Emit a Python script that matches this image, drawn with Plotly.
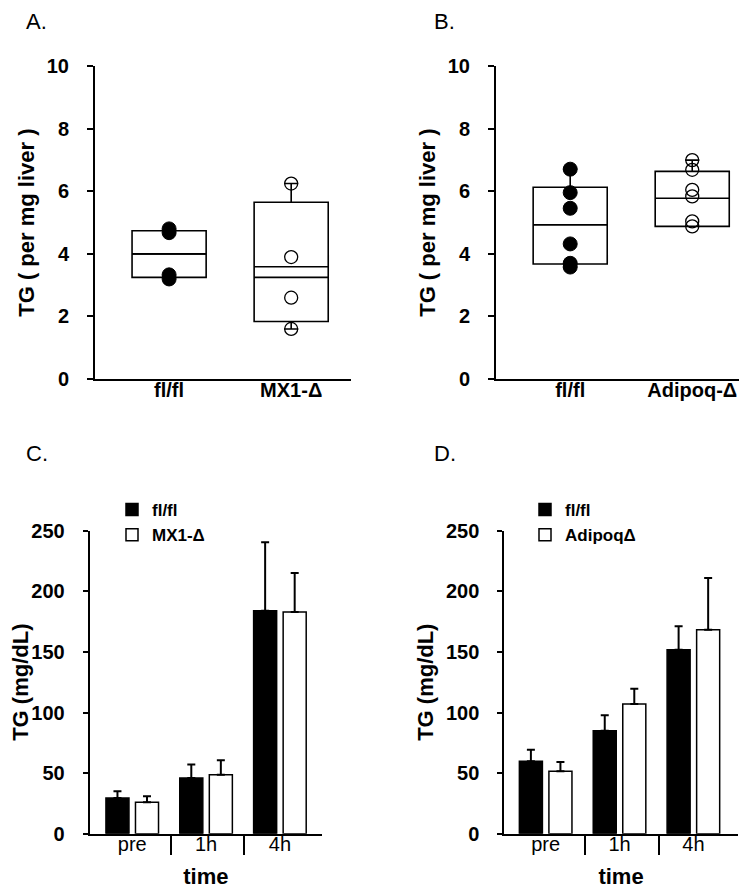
import plotly.graph_objects as go

FONT = "Liberation Sans, Arial, sans-serif"

# ---------------- Panel A: liver TG, MX1 ----------------
a_groups = ["fl/fl", "MX1-Δ"]
a_q1 = [3.25, 1.84]
a_median = [4.0, 3.25]
a_q3 = [4.74, 5.65]
a_lower = [3.25, 1.6]
a_upper = [4.74, 6.25]
a_mean = [4.0, 3.59]
a_pts_fl = [4.8, 4.68, 3.33, 3.2]
a_pts_ko = [6.25, 3.9, 2.6, 1.6]

# ---------------- Panel B: liver TG, Adipoq ----------------
b_groups = ["fl/fl", "Adipoq-Δ"]
b_q1 = [3.68, 4.88]
b_median = [4.93, 5.78]
b_q3 = [6.13, 6.64]
b_lower = [3.58, 4.88]
b_upper = [6.71, 7.0]
b_pts_fl = [6.71, 5.96, 5.46, 4.32, 3.7, 3.58]
b_pts_ko = [7.0, 6.69, 6.05, 5.84, 5.04, 4.88]

# ---------------- Panel C: plasma TG, MX1 ----------------
c_times = ["pre", "1h", "4h"]
c_fl = [29.5, 46, 184]
c_fl_err = [5.5, 11, 56.4]
c_ko = [25.9, 48.7, 183]
c_ko_err = [4.9, 11.8, 32]

# ---------------- Panel D: plasma TG, Adipoq ----------------
d_times = ["pre", "1h", "4h"]
d_fl = [59.7, 85, 151.8]
d_fl_err = [9.6, 12.7, 19.3]
d_ko = [51.5, 107, 168.3]
d_ko_err = [7.7, 12.6, 42.7]

BOXW = 0.607

fig = go.Figure()


def add_box_panel(xa, ya, q1, med, q3, lo, up, means, pts_fl, pts_ko, groups, mean_idx):
    pos = list(range(len(groups)))
    fig.add_trace(go.Box(
        x=pos, q1=q1, median=med, q3=q3, lowerfence=lo, upperfence=up,
        width=BOXW, whiskerwidth=0.19, fillcolor="white",
        line=dict(color="black", width=1.6), boxpoints=False,
        showlegend=False, xaxis=xa, yaxis=ya, hoverinfo="skip"))
    for i in mean_idx:
        fig.add_trace(go.Scatter(
            x=[pos[i] - BOXW / 2, pos[i] + BOXW / 2], y=[means[i], means[i]],
            mode="lines", line=dict(color="black", width=1.6),
            showlegend=False, xaxis=xa, yaxis=ya, hoverinfo="skip"))
    fig.add_trace(go.Scatter(
        x=[pos[0]] * len(pts_fl), y=pts_fl, mode="markers",
        marker=dict(symbol="circle", size=14, color="black",
                    line=dict(color="black", width=1)),
        showlegend=False, xaxis=xa, yaxis=ya))
    fig.add_trace(go.Scatter(
        x=[pos[1]] * len(pts_ko), y=pts_ko, mode="markers",
        marker=dict(symbol="circle", size=13, color="rgba(0,0,0,0)",
                    line=dict(color="black", width=1.3)),
        showlegend=False, xaxis=xa, yaxis=ya))


add_box_panel("x", "y", a_q1, a_median, a_q3, a_lower, a_upper, a_mean,
              a_pts_fl, a_pts_ko, a_groups, [0, 1])
add_box_panel("x2", "y2", b_q1, b_median, b_q3, b_lower, b_upper, b_median,
              b_pts_fl, b_pts_ko, b_groups, [])


def add_bar_panel(xa, ya, times, fl, fl_err, ko, ko_err, ko_name, leg):
    pos = list(range(len(times)))
    fig.add_trace(go.Bar(
        x=pos, y=fl, name="fl/fl", legend=leg,
        marker=dict(color="black", line=dict(color="black", width=1.5)),
        error_y=dict(type="data", symmetric=False, array=fl_err,
                     arrayminus=[0] * len(fl), color="black",
                     thickness=2, width=4),
        xaxis=xa, yaxis=ya))
    fig.add_trace(go.Bar(
        x=pos, y=ko, name=ko_name, legend=leg,
        marker=dict(color="white", line=dict(color="black", width=1.5)),
        error_y=dict(type="data", symmetric=False, array=ko_err,
                     arrayminus=[0] * len(ko), color="black",
                     thickness=2, width=4),
        xaxis=xa, yaxis=ya))


add_bar_panel("x3", "y3", c_times, c_fl, c_fl_err, c_ko, c_ko_err, "MX1-Δ", "legend")
add_bar_panel("x4", "y4", d_times, d_fl, d_fl_err, d_ko, d_ko_err, "AdipoqΔ", "legend2")

W, H = 747, 888


def px(v):
    return v / W


def py(v):
    return 1 - v / H


tickfont = dict(family=FONT, size=20, color="black", weight="bold")
titlefont = dict(family=FONT, size=22, color="black", weight="bold")
cattickfont = dict(family=FONT, size=20, color="black")

common_x = dict(showline=True, linecolor="black", linewidth=2, showgrid=False,
                zeroline=False, ticks="", ticklen=0, tickfont=tickfont,
                automargin=False, fixedrange=True)
common_y = dict(showline=True, linecolor="black", linewidth=2, showgrid=False,
                zeroline=False, ticks="outside", ticklen=6, tickwidth=2,
                tickcolor="black", tickfont=tickfont, automargin=False,
                fixedrange=True, ticklabelstandoff=14)

box_ydom = [py(371), py(58.3)]
bar_ydom = [py(825.7), py(522.7)]

legfont = dict(family=FONT, size=17, color="black", weight="bold")

fig.update_layout(
    width=W, height=H,
    margin=dict(l=0, r=0, t=0, b=0),
    paper_bgcolor="white", plot_bgcolor="white",
    barmode="group", bargap=0.2, bargroupgap=0.22,
    font=dict(family=FONT, color="black"),
    xaxis=dict(common_x, domain=[px(87), px(343)], range=[-0.607, 1.49],
               tickvals=[0, 1], ticktext=a_groups, anchor="y",
               ticklabelstandoff=-8),
    yaxis=dict(common_y, domain=box_ydom, range=[0, 10], dtick=2, anchor="x",
               title=dict(text="TG ( per mg liver )", font=titlefont, standoff=6)),
    xaxis2=dict(common_x, domain=[px(488), px(745)], range=[-0.608, 1.498],
                tickvals=[0, 1], ticktext=b_groups, anchor="y2",
                ticklabelstandoff=-8),
    yaxis2=dict(common_y, domain=box_ydom, range=[0, 10], dtick=2, anchor="x2",
                title=dict(text="TG ( per mg liver )", font=titlefont, standoff=6)),
    xaxis3=dict(common_x, domain=[px(81.7), px(314)], range=[-0.576, 2.57],
                tickvals=[0, 1, 2], ticktext=c_times, anchor="y3",
                tickfont=cattickfont, ticklabelstandoff=-9,
                minor=dict(tickmode="array", tickvals=[0.52, 1.52], ticks="outside",
                           ticklen=19, tickwidth=1.5, tickcolor="black"),
                title=dict(text="time", font=titlefont, standoff=15)),
    yaxis3=dict(common_y, domain=bar_ydom, range=[0, 250], dtick=50, anchor="x3",
                ticklen=5,
                title=dict(text="TG (mg/dL)", font=titlefont, standoff=6)),
    xaxis4=dict(common_x, domain=[px(496.3), px(729.7)], range=[-0.56, 2.60],
                tickvals=[0, 1, 2], ticktext=d_times, anchor="y4",
                tickfont=cattickfont, ticklabelstandoff=-9,
                minor=dict(tickmode="array", tickvals=[0.53, 1.53], ticks="outside",
                           ticklen=19, tickwidth=1.5, tickcolor="black"),
                title=dict(text="time", font=titlefont, standoff=15)),
    yaxis4=dict(common_y, domain=bar_ydom, range=[0, 250], dtick=50, anchor="x4",
                ticklen=5,
                title=dict(text="TG (mg/dL)", font=titlefont, standoff=6)),
    legend=dict(x=px(104), y=py(484), xanchor="left", yanchor="top",
                bgcolor="rgba(0,0,0,0)", borderwidth=0, tracegroupgap=0,
                font=legfont, itemclick=False, itemdoubleclick=False),
    legend2=dict(x=px(517), y=py(484), xanchor="left", yanchor="top",
                 bgcolor="rgba(0,0,0,0)", borderwidth=0, tracegroupgap=0,
                 font=legfont, itemclick=False, itemdoubleclick=False),
    showlegend=True,
)

labels = [("A.", 17, 0), ("B.", 425, 0), ("C.", 17, 432), ("D.", 425, 432)]
for txt, x0, y0 in labels:
    fig.add_annotation(text=txt, x=px(x0), y=py(y0), xref="paper", yref="paper",
                       xanchor="left", yanchor="top", showarrow=False, borderpad=0,
                       font=dict(family=FONT, size=22, color="black"))

fig.write_html("out.html")
